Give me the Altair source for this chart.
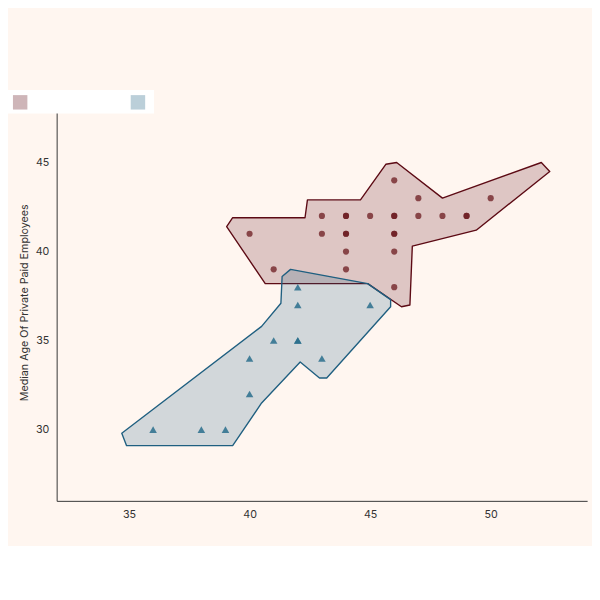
import altair as alt
import pandas as pd

RED = "#5c0a14"
BLUE = "#1f5f80"

red_x = [40, 41, 43, 43, 44, 44, 44, 44, 45, 46, 46, 46, 46, 46, 47, 47, 48, 49, 50, 44, 44, 46, 46, 49]
red_y = [41, 39, 42, 41, 42, 41, 40, 39, 42, 44, 42, 41, 40, 38, 43, 42, 42, 42, 43, 42, 41, 42, 41, 42]
blue_x = [36, 38, 39, 40, 40, 41, 42, 42, 42, 43, 45, 42]
blue_y = [30, 30, 30, 34, 32, 35, 38, 37, 35, 34, 37, 35]

red_hull_x = [39.05, 39.3, 42.3, 42.4, 44.6, 45.65, 46.1, 48.0, 52.1, 52.45, 49.4, 46.75, 46.65, 46.3, 44.9, 40.65]
red_hull_y = [41.4, 41.9, 41.9, 42.9, 42.9, 44.9, 45.0, 43.0, 45.0, 44.5, 41.2, 40.3, 37.0, 36.9, 38.2, 38.2]
blue_hull_x = [34.7, 34.9, 39.3, 40.5, 42.1, 42.9, 43.2, 45.85, 45.85, 44.9, 41.7, 41.35, 41.3, 40.5]
blue_hull_y = [29.8, 29.1, 29.1, 31.5, 33.8, 32.9, 32.9, 36.9, 37.3, 38.2, 39.0, 38.6, 37.1, 35.8]

groups = ["A", "B"]

hull = pd.concat([
    pd.DataFrame({"x": red_hull_x, "y": red_hull_y, "g": "A", "o": range(len(red_hull_x))}),
    pd.DataFrame({"x": blue_hull_x, "y": blue_hull_y, "g": "B", "o": range(len(blue_hull_x))}),
])
pts_red = pd.DataFrame({"x": red_x, "y": red_y})
pts_blue = pd.DataFrame({"x": blue_x, "y": blue_y})

xs = alt.Scale(domain=[32, 54], nice=False, zero=False)
ys = alt.Scale(domain=[26, 48.3], nice=False, zero=False)
xax = alt.Axis(values=[35, 40, 45, 50], grid=False, title=None, ticks=False, labelPadding=8)
yax = alt.Axis(values=[30, 35, 40, 45], grid=False, title="Median Age Of Private Paid Employees",
               ticks=False, labelPadding=8, titlePadding=6)

def hull_layer(g, color):
    return alt.Chart(hull[hull.g == g]).mark_line(
        interpolate="linear-closed", fill=color, fillOpacity=0.2,
        stroke=color, strokeWidth=1.4, strokeJoin="round",
    ).encode(
        x=alt.X("x:Q", scale=xs, axis=xax),
        y=alt.Y("y:Q", scale=ys, axis=yax),
        order="o:Q",
    )

legend = alt.Chart(pd.DataFrame({"g": groups})).mark_square(size=0).encode(
    color=alt.Color("g:N", scale=alt.Scale(domain=groups, range=[RED, BLUE]),
                    legend=alt.Legend(orient="none", legendX=-50, legendY=-14, direction="horizontal",
                                      title=None, labelExpr="''", symbolType="square",
                                      symbolSize=220, symbolOpacity=0.3, symbolStrokeWidth=1.2,
                                      columnPadding=100, fillColor="white", padding=4)),
)

red_pts = alt.Chart(pts_red).mark_circle(size=40, color="#6b1a1f", opacity=0.75).encode(x="x:Q", y="y:Q")
blue_pts = alt.Chart(pts_blue).mark_point(shape="triangle-up", filled=True, size=60, color="#2a6e8c", opacity=0.85).encode(x="x:Q", y="y:Q")

chart = alt.layer(hull_layer("A", RED), hull_layer("B", BLUE), red_pts, blue_pts, legend).properties(
    width=545, height=408, background="#fff6f0", padding={"left": 0, "top": 77, "right": 5, "bottom": 20},
).configure_view(stroke=None).configure_axis(
    labelFont="Inter", titleFont="Inter", labelColor="#333", titleColor="#333",
    labelFontSize=11, titleFontSize=11, titleFontWeight="normal",
    domainColor="#333",
)

chart.save("out.html", embed_options={"renderer": "svg", "actions": False})
